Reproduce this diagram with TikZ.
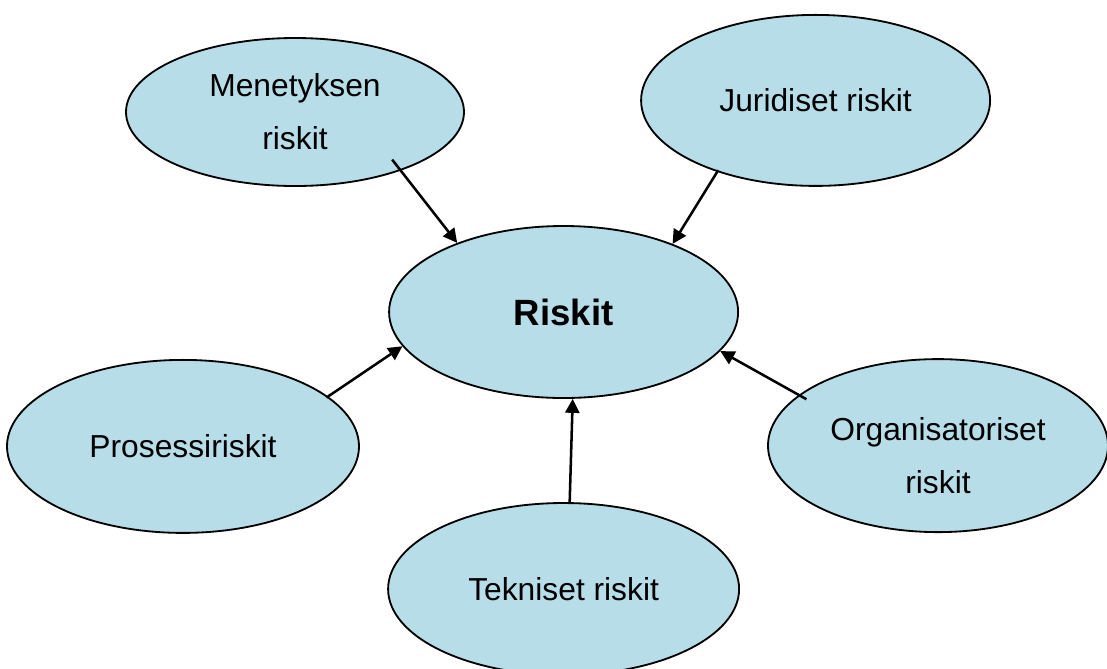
\documentclass[tikz,border=0pt]{standalone}
\usepackage{fontspec}
\setmainfont{Liberation Sans}
\usetikzlibrary{positioning,shapes,arrows.meta}
\definecolor{riskblue}{RGB}{183,221,232}

\begin{document}
\begin{tikzpicture}[
    risk/.style={ellipse, draw=black, line width=1.3pt, fill=riskblue, inner sep=0pt, align=center, font=\fontsize{22.6}{37.7}\selectfont},
    mainrisk/.style={font=\fontsize{26}{30}\selectfont\bfseries},
    arrow/.style={-{Triangle[length=10pt,width=10pt]}, line width=1.8pt},
    on grid
]
    \useasboundingbox (0,0) rectangle (27.675,-16.7);

    \node[risk, mainrisk, minimum width=8.725cm, minimum height=4.3cm] (riskit) at (14.09,-7.8) {Riskit};

    \node[risk, minimum width=8.45cm, minimum height=3.7cm, above left=5.0cm and 6.715cm of riskit] (mene) {
        Menetyksen \\
        riskit
    };

    \node[risk, minimum width=8.725cm, minimum height=4.275cm, above right=5.29cm and 6.3cm of riskit] (juri) {Juridiset riskit};

    \node[risk, minimum width=8.8cm, minimum height=4.325cm, below left=3.36cm and 9.515cm of riskit] (proc) {Prosessiriskit};

    \node[risk, minimum width=8.5cm, minimum height=4.325cm, below right=3.34cm and 9.36cm of riskit] (org) {
        \rule{0pt}{31pt}Organisatoriset \\
        riskit
    };

    \node[risk, minimum width=8.775cm, minimum height=4.3cm, below=6.925cm of riskit] (tek) {Tekniset riskit};

    \draw[arrow, shorten <=-0.35cm] (mene.-29) -- (riskit.147);
    \draw[arrow, shorten <=-0.05cm] (juri.216) -- (riskit.32);
    \draw[arrow, shorten <=-0.05cm] (proc.19) -- (riskit.192);
    \draw[arrow, shorten <=-0.22cm] (org.160) -- (riskit.-14);
    \draw[arrow, shorten <=-0.05cm] (tek.86) -- (riskit.-84);
\end{tikzpicture}
\end{document}
